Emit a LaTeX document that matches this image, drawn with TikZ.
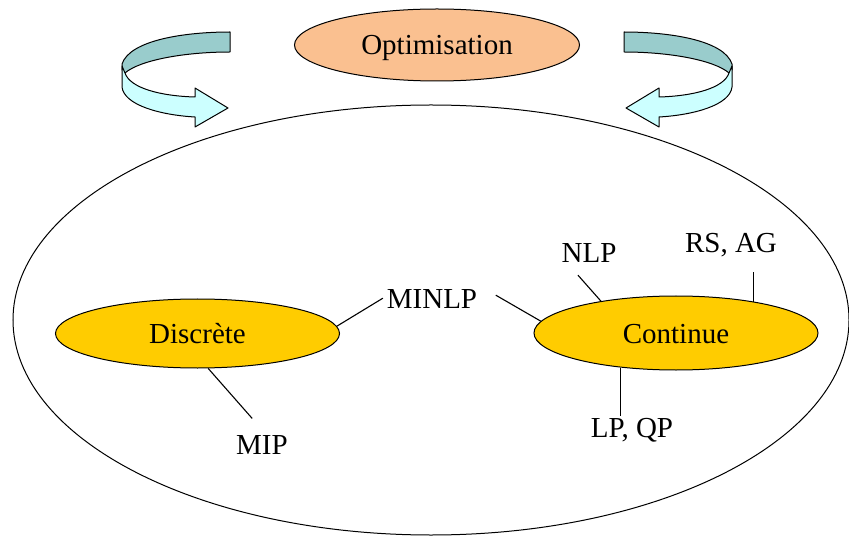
\documentclass[tikz,border=0pt]{standalone}
\usepackage{fontspec}
\setmainfont{Liberation Serif}
\usetikzlibrary{shapes.geometric}
\definecolor{peach}{HTML}{FAC090}
\definecolor{gold}{HTML}{FFCC00}
\definecolor{ribbonback}{HTML}{99CCCC}
\definecolor{ribbonfront}{HTML}{CCFFFF}
\tikzset{
  ribbonarrow/.pic={
    % back half of the twisted ribbon
    \filldraw[fill=ribbonback, line join=round]
      (230,32) .. controls (185,32) and (130,40) .. (122,64)
      -- (122,70) -- (125,73)
      .. controls (140,60) and (185,52) .. (230,52) -- cycle;
    % front half ending in the arrow head
    \filldraw[fill=ribbonfront, line join=round]
      (122,66) -- (122,87)
      .. controls (124,105) and (160,115) .. (195,117)
      -- (195,127) -- (228,108) -- (195,88) -- (195,97)
      .. controls (160,96) and (130,88) .. (125,73) -- cycle;
  }
}
\begin{document}
\begin{tikzpicture}[x=1bp, y=-1bp, line width=1bp,
  txt/.style={font=\fontsize{29bp}{34bp}\selectfont, inner sep=0pt},
  blob/.style={txt, ellipse, draw, minimum width=284bp,
    text height=20bp, text depth=0pt},
  link/.style={draw, line width=1.1bp}]
\useasboundingbox (0,0) rectangle (849,536);

% the whole domain
\node[draw, ellipse, inner sep=0pt, minimum width=836bp,
  minimum height=430bp] (domain) at (431,320) {};

% top: optimisation and the two turning arrows
\node[blob, fill=peach, minimum width=285bp, minimum height=72bp]
  (opt) at (437,45) {Optimisation};
\pic at (0,0) {ribbonarrow};
\pic[xscale=-1] at (854,0) {ribbonarrow};

% the two families of problems
\node[blob, fill=gold, minimum height=69bp] (disc) at (197.5,333.5) {Discrète};
\node[blob, fill=gold, minimum height=74bp] (cont) at (676,333) {Continue};

% problem classes
\node[txt, anchor=base] (minlp) at (432,309) {MINLP};
\node[txt, anchor=base] (nlp) at (589,263) {NLP};
\node[txt, anchor=base] (rsag) at (731,253) {RS, AG};
\node[txt, anchor=base] (mip) at (262,454) {MIP};
\node[txt, anchor=base] (lpqp) at (632,437) {LP, QP};

% links between classes and families
\draw[link] (disc.3) -- ++(46,-28);
\draw[link] (cont.175.8) -- ++(-45,-26);
\draw[link] (cont.157.3) -- ++(-23,-26);
\draw[link] (cont.22.4) -- ++(0,-29.5);
\draw[link] (cont.212.3) -- ++(0,48);
\draw[link] (disc.287) -- ++(44,50);
\end{tikzpicture}
\end{document}
